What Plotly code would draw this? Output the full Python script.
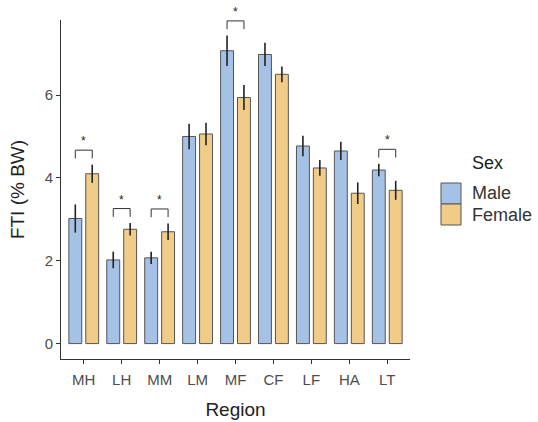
import plotly.graph_objects as go

# ---- data ----
regions = ["MH", "LH", "MM", "LM", "MF", "CF", "LF", "HA", "LT"]
male_mean = [3.02, 2.02, 2.07, 5.00, 7.07, 6.98, 4.77, 4.65, 4.19]
male_se = [0.34, 0.20, 0.15, 0.31, 0.37, 0.28, 0.25, 0.22, 0.15]
female_mean = [4.10, 2.76, 2.70, 5.06, 5.94, 6.50, 4.24, 3.63, 3.70]
female_se = [0.22, 0.15, 0.20, 0.27, 0.30, 0.19, 0.19, 0.26, 0.23]
significant = ["MH", "LH", "MM", "MF", "LT"]
y_ticks = [0, 2, 4, 6]

# ---- style ----
MALE_COL = "#A6C1E6"
FEMALE_COL = "#F0CC88"
OUTLINE = "#555555"
AXIS_COL = "#333333"
TICK_TXT = "#4D4D4D"
FONT = "Liberation Sans, Arial, sans-serif"
BARGAP = 0.108
BARGROUPGAP = 0.237

x_pos = list(range(1, len(regions) + 1))

fig = go.Figure()
fig.add_trace(go.Bar(
    x=x_pos, y=male_mean, name="Male",
    marker=dict(color=MALE_COL, line=dict(color=OUTLINE, width=1)),
    error_y=dict(type="data", array=male_se, visible=True, color="#222222",
                 thickness=1.6, width=0),
))
fig.add_trace(go.Bar(
    x=x_pos, y=female_mean, name="Female",
    marker=dict(color=FEMALE_COL, line=dict(color=OUTLINE, width=1)),
    error_y=dict(type="data", array=female_se, visible=True, color="#222222",
                 thickness=1.6, width=0),
))

# y range like ggplot default expansion (5%)
ymax = max(max(m + s for m, s in zip(male_mean, male_se)),
           max(m + s for m, s in zip(female_mean, female_se)))
pad = 0.05 * ymax

# significance brackets
half = (1 - BARGAP) / 4
shapes = []
annotations = []
for r in significant:
    i = regions.index(r)
    xc = x_pos[i]
    top = max(male_mean[i] + male_se[i], female_mean[i] + female_se[i]) + 0.35
    leg = top - 0.2
    shapes.append(dict(
        type="path", xref="x", yref="y",
        path=f"M {xc - half},{leg} L {xc - half},{top} L {xc + half},{top} L {xc + half},{leg}",
        line=dict(color=AXIS_COL, width=1),
    ))
    annotations.append(dict(
        x=xc, y=top, xref="x", yref="y", text="*", showarrow=False,
        yanchor="bottom", font=dict(size=12, color="#222222", family=FONT),
        yshift=0,
    ))

# custom legend (ggplot style) in paper coords
L, R, T, B = 61, 410, 20, 359
def px_x(p):
    return (p - L) / (R - L)
def px_y(p):
    return (B - p) / (B - T)

legend_items = [("Male", MALE_COL, 183, 204), ("Female", FEMALE_COL, 204, 225)]
annotations.append(dict(x=px_x(470), y=px_y(163), xref="paper", yref="paper",
                        text="Sex", showarrow=False, xanchor="left", yanchor="middle",
                        font=dict(size=18, color="#222222", family=FONT)))
for name, col, y0, y1 in legend_items:
    shapes.append(dict(type="rect", xref="paper", yref="paper",
                       x0=px_x(441), x1=px_x(461), y0=px_y(y1), y1=px_y(y0),
                       fillcolor=col, line=dict(color=OUTLINE, width=1)))
    annotations.append(dict(x=px_x(470), y=px_y((y0 + y1) / 2), xref="paper", yref="paper",
                            text=name, showarrow=False, xanchor="left", yanchor="middle",
                            font=dict(size=18, color="#333333", family=FONT)))

fig.update_layout(
    width=538, height=422,
    margin=dict(l=L, r=538 - R, t=T, b=422 - B, autoexpand=False),
    barmode="group", bargap=BARGAP, bargroupgap=BARGROUPGAP,
    plot_bgcolor="white", paper_bgcolor="white",
    showlegend=False,
    font=dict(family=FONT),
    shapes=shapes, annotations=annotations,
)
fig.update_xaxes(
    range=[0.4, len(regions) + 0.6],
    tickvals=x_pos, ticktext=regions,
    showline=True, linecolor=AXIS_COL, linewidth=1,
    ticks="outside", ticklen=4, tickcolor=AXIS_COL, tickwidth=1,
    tickfont=dict(size=15, color=TICK_TXT, family=FONT),
    ticklabelstandoff=3,
    showgrid=False, zeroline=False, automargin=False,
    title=dict(text="Region", font=dict(size=19, color="#222222", family=FONT)),
)
fig.update_yaxes(
    range=[-pad, ymax + pad],
    tickvals=y_ticks,
    showline=True, linecolor=AXIS_COL, linewidth=1,
    ticks="outside", ticklen=4, tickcolor=AXIS_COL, tickwidth=1,
    tickfont=dict(size=15, color=TICK_TXT, family=FONT),
    showgrid=False, zeroline=False, automargin=False,
    title=dict(text="FTI (% BW)", font=dict(size=19, color="#222222", family=FONT)),
)

fig.write_html("out.html", post_script="document.body.style.margin='0';",
               config={"displayModeBar": False})
